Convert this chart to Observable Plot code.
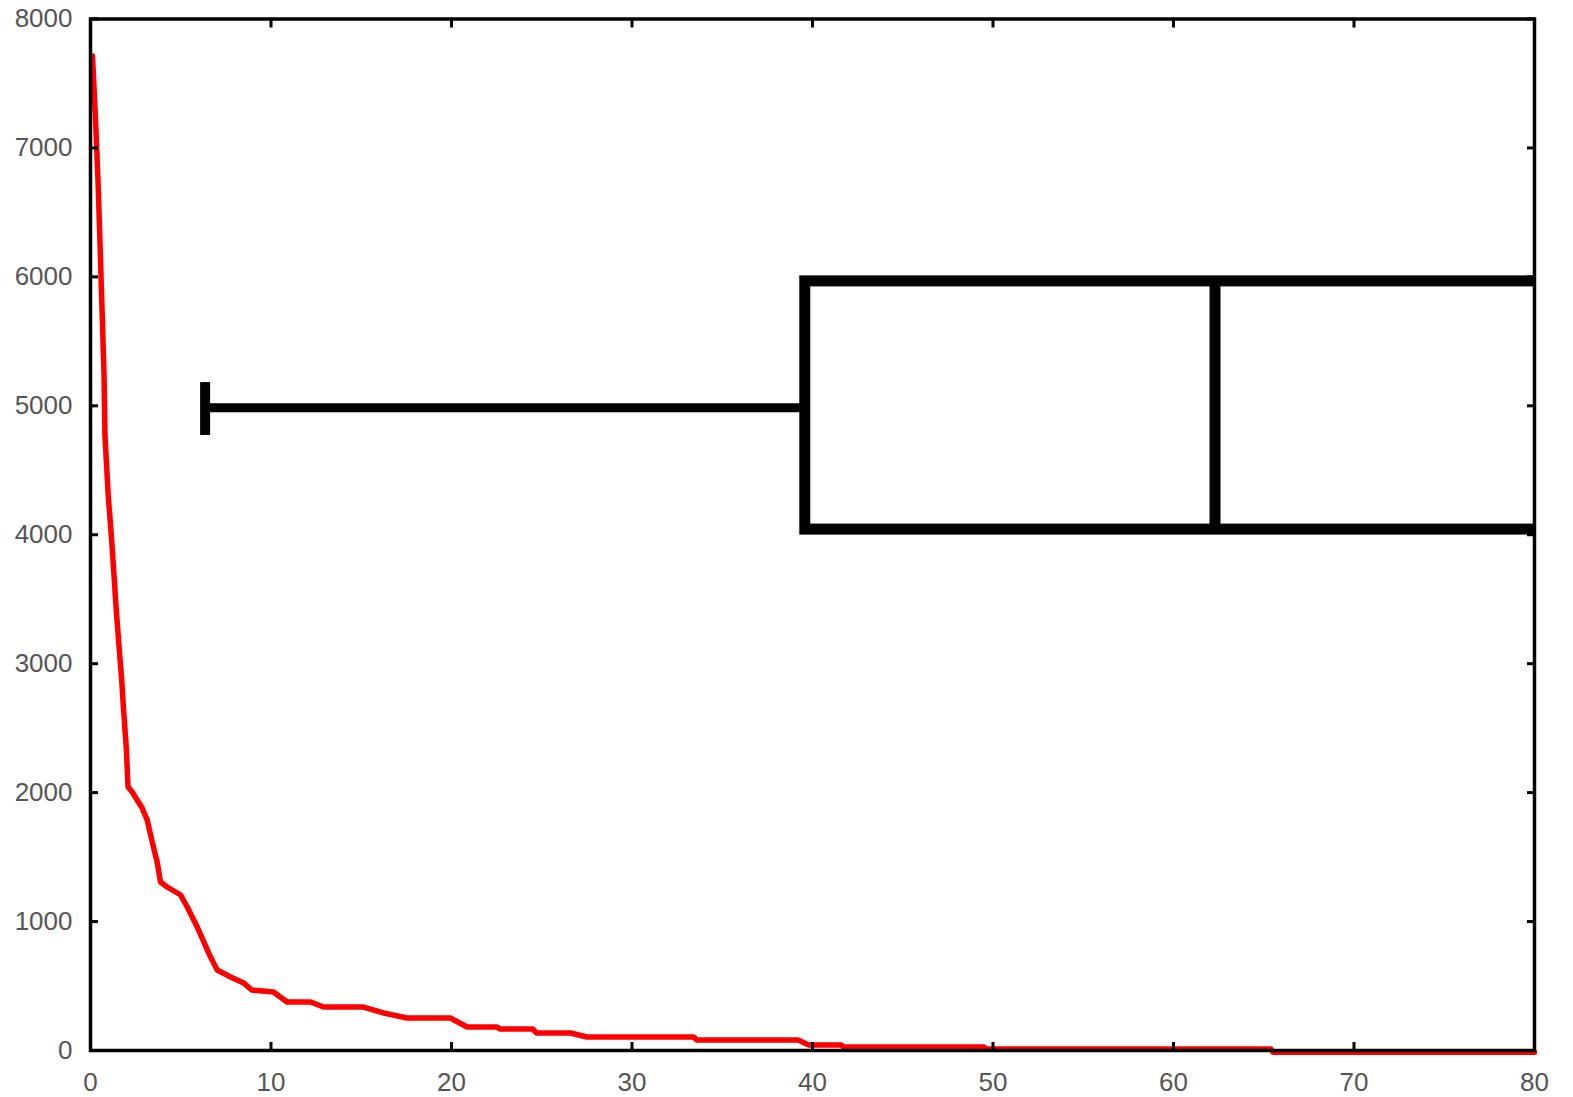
<!DOCTYPE html>
<html><head><meta charset="utf-8">
<script src="https://cdn.jsdelivr.net/npm/d3@7"></script>
<script src="https://cdn.jsdelivr.net/npm/@observablehq/plot@0.6"></script>
<style>html,body{margin:0;padding:0;background:#fff}svg{display:block}</style>
</head><body><div id="chart"></div>
<script>
// red curve (sorted values)
const curveX = [0.11,0.28,0.42,0.53,0.64,0.75,0.80,0.98,1.16,1.29,1.42,1.57,1.72,1.84,1.98,2.08,
  2.31,2.86,3.14,3.42,3.69,3.88,4.25,4.99,5.36,5.91,6.65,7.02,7.76,8.48,8.93,10.14,10.89,12.19,12.91,15.12,
  16.23,17.54,19.94,20.87,22.5,22.7,24.5,24.7,26.6,27.5,33.4,33.6,39.2,39.8,41.6,41.7,49.5,49.6,65.4,65.5,80];
const curveY = [7713,7217,6728,6247,5743,5239,4774,4309,3983,3712,3432,3153,2889,2625,2354,2044,
  2005,1881,1788,1617,1462,1307,1268,1206,1113,958,725,624,570,524,469,454,376,376,337,337,
  291,252,252,182,182,167,167,136,136,105,105,81,81,43,43,27,27,12,12,-14,-14];

// horizontal box plot
const whiskerLow = 6.35;
const whiskerY = 4985;
const capLow = 4770, capHigh = 5180;
const boxQ1 = 39.6, boxMedian = 62.3, boxQ3 = 85;
const boxLow = 4040, boxHigh = 5965;

const xTicks = [0,10,20,30,40,50,60,70,80];
const yTicks = [0,1000,2000,3000,4000,5000,6000,7000,8000];

const font = {fontFamily: "Liberation Sans", fontSize: 26, fill: "#555"};

const chart = Plot.plot({
  width: 1573,
  height: 1097,
  marginLeft: 90,
  marginRight: 39,
  marginTop: 18.5,
  marginBottom: 47,
  x: {domain: [0, 80]},
  y: {domain: [0, 8000]},
  marks: [
    Plot.line({length: curveX.length}, {x: curveX, y: curveY, stroke: "#ff0000", strokeWidth: 5.5}),
    Plot.ruleY([whiskerY], {x1: whiskerLow, x2: boxQ1, stroke: "black", strokeWidth: 9}),
    Plot.ruleX([whiskerLow], {y1: capLow, y2: capHigh, stroke: "black", strokeWidth: 10}),
    Plot.rect([{q1: boxQ1, q3: boxQ3, lo: boxLow, hi: boxHigh}], {x1: "q1", x2: "q3", y1: "lo", y2: "hi", fill: "none", stroke: "black", strokeWidth: 11, clip: true}),
    Plot.ruleX([boxMedian], {y1: boxLow, y2: boxHigh, stroke: "black", strokeWidth: 11}),
    // inward ticks
    Plot.axisY(yTicks, {anchor: "left", tickSize: 8, dx: 8, tickFormat: () => "", strokeWidth: 3, label: null}),
    Plot.axisY(yTicks, {anchor: "right", tickSize: 8, dx: -8, tickFormat: () => "", strokeWidth: 3, label: null}),
    Plot.axisX(xTicks, {anchor: "bottom", tickSize: 8, dy: -8, tickFormat: () => "", strokeWidth: 3, label: null}),
    Plot.axisX(xTicks, {anchor: "top", tickSize: 8, dy: 8, tickFormat: () => "", strokeWidth: 3, label: null}),
    // labels
    Plot.axisY(yTicks, {anchor: "left", tickSize: 0, tickPadding: 18, tickFormat: d => String(d), label: null, ...font}),
    Plot.axisX(xTicks, {anchor: "bottom", tickSize: 0, tickPadding: 22, tickFormat: d => String(d), label: null, ...font}),
    Plot.frame({stroke: "black", strokeWidth: 3.5})
  ]
});
document.getElementById("chart").appendChild(chart);
</script>
</body></html>
